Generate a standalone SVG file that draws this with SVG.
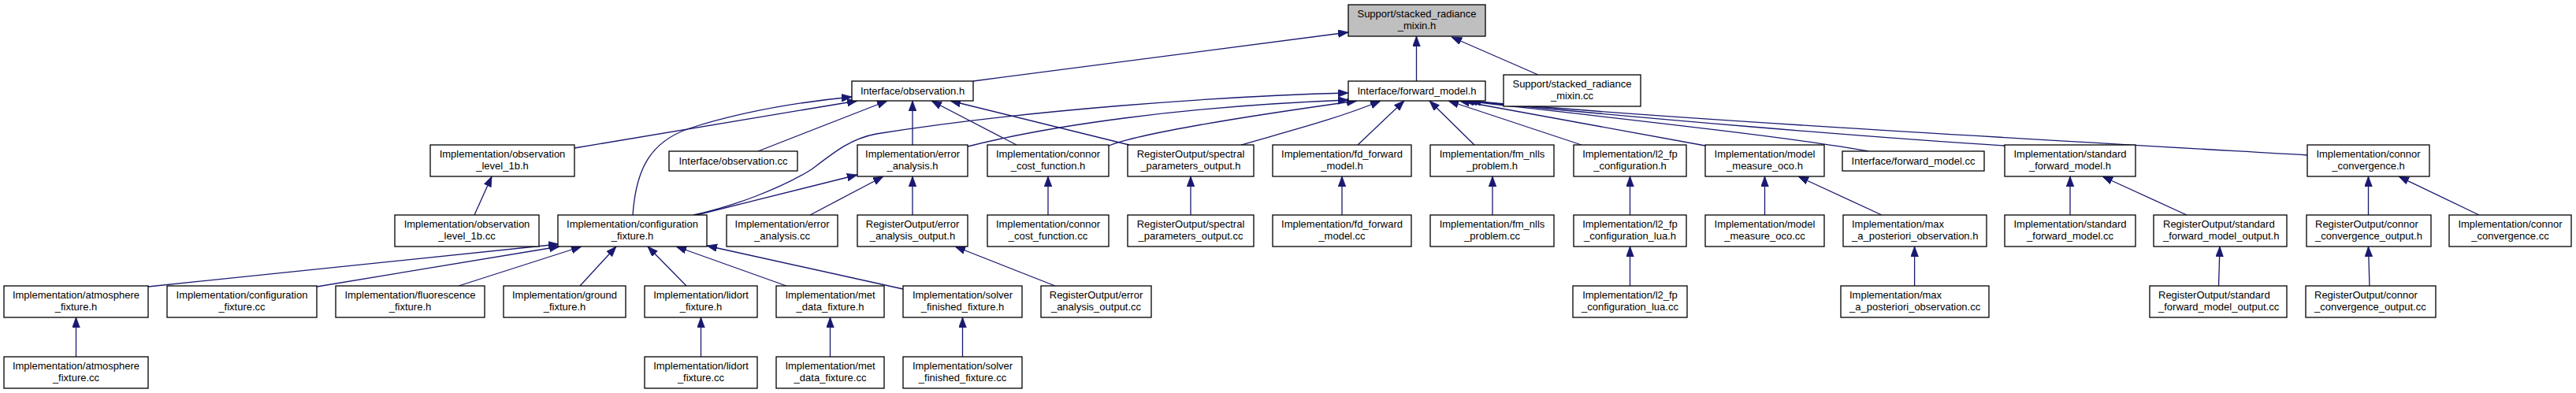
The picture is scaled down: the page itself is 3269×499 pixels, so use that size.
<svg xmlns="http://www.w3.org/2000/svg" width="3269" height="499" viewBox="0 0 3269 499">
<style>
.node rect{fill:#ffffff;stroke:#000000;stroke-width:1.3}
.node.root rect{fill:#bfbfbf}
.node text{font-family:"Liberation Sans",Arial,Helvetica,sans-serif;font-size:13px;fill:#000000;text-anchor:middle}
.node text.l{text-anchor:start}
#edges path{fill:none;stroke:#191970;stroke-width:1.3;marker-end:url(#arr)}
</style>
<defs>
<marker id="arr" markerUnits="userSpaceOnUse" markerWidth="14" markerHeight="11" refX="13" refY="4.8" orient="auto">
<path d="M0,0 L13,4.8 L0,9.6 z" fill="#191970" stroke="#191970" stroke-width="0.8"/>
</marker>
</defs>
<rect x="0" y="0" width="3269" height="499" fill="#ffffff"/>
<g id="edges">
<path d="M1235,103 L1711,41"/>
<path d="M1797.5,103 L1797.5,46"/>
<path d="M1952,95 L1842,47"/>
<path d="M729,188 L1088,128"/>
<path d="M803,273 C807,215 825,180 875,163 C940,142 1010,130 1081,123"/>
<path d="M962,192 L1126,128"/>
<path d="M1158,184 L1158,128"/>
<path d="M1290,184 L1182,128"/>
<path d="M1433,184 L1206,128"/>
<path d="M880,273 C930,262 990,240 1030,215 C1060,192 1080,176 1112,170 C1300,140 1550,122 1711,118"/>
<path d="M1228,186 C1330,160 1500,135 1711,127"/>
<path d="M1407,185 C1450,168 1600,145 1722,128"/>
<path d="M1575,184 C1630,168 1700,150 1752,128"/>
<path d="M1723,184 L1782,128"/>
<path d="M1871,184 L1814,128"/>
<path d="M2007,184 L1838,128"/>
<path d="M2164,185 L1852,128"/>
<path d="M2371,192 C2280,175 2050,150 1858,128"/>
<path d="M2544,185 C2380,175 2080,150 1862,128"/>
<path d="M2928,197 C2600,178 2100,150 1866,128"/>
<path d="M188,364 L709,310"/>
<path d="M402,364 L710,313"/>
<path d="M582,363 L738,313"/>
<path d="M736,363 L782,313"/>
<path d="M871,363 L822,313"/>
<path d="M998,363 L858,313"/>
<path d="M1146,367 L897,312"/>
<path d="M602,273 L624,224"/>
<path d="M884,273 L1088,222"/>
<path d="M1028,273 L1121,224"/>
<path d="M1158,273 L1158,224"/>
<path d="M1339,363 L1212,313"/>
<path d="M1330,273 L1330,224"/>
<path d="M1511,273 L1511,224"/>
<path d="M1703,273 L1703,224"/>
<path d="M1894,273 L1894,224"/>
<path d="M2068.5,273 L2068.5,224"/>
<path d="M2068.5,363 L2068.5,313"/>
<path d="M2239.5,273 L2239.5,224"/>
<path d="M2388,273 L2282,224"/>
<path d="M2429.6,363 L2429.6,313"/>
<path d="M2627,273 L2627,224"/>
<path d="M2775,273 L2668,224"/>
<path d="M2815.5,363 L2817,313"/>
<path d="M3005.5,273 L3005.5,224"/>
<path d="M3146,273 L3044,224"/>
<path d="M3007,363 L3005.5,313"/>
<path d="M96.5,453 L96.5,403"/>
<path d="M889.5,453 L889.5,403"/>
<path d="M1053.5,453 L1053.5,403"/>
<path d="M1221.5,453 L1221.5,403"/>
</g>
<g id="n_root" class="node root"><rect x="1711" y="6" width="174" height="40"/><text x="1798" y="22">Support/stacked_radiance</text><text x="1798" y="37">_mixin.h</text></g>
<g id="n_obs_h" class="node"><rect x="1081" y="103" width="154" height="25"/><text x="1158" y="119.5">Interface/observation.h</text></g>
<g id="n_fm_h" class="node"><rect x="1711" y="103" width="174" height="25"/><text x="1798" y="119.5">Interface/forward_model.h</text></g>
<g id="n_src_cc" class="node"><rect x="1908" y="95" width="174" height="40"/><text x="1995" y="111">Support/stacked_radiance</text><text x="1995" y="126">_mixin.cc</text></g>
<g id="n_obs1b_h" class="node"><rect x="546" y="184" width="183" height="40"/><text x="637.5" y="200">Implementation/observation</text><text x="637.5" y="215">_level_1b.h</text></g>
<g id="n_obs_cc" class="node"><rect x="849" y="192" width="163" height="25"/><text x="930.5" y="208.5">Interface/observation.cc</text></g>
<g id="n_ea_h" class="node"><rect x="1088" y="184" width="140" height="40"/><text x="1158" y="200">Implementation/error</text><text x="1158" y="215">_analysis.h</text></g>
<g id="n_ccf_h" class="node"><rect x="1253" y="184" width="154" height="40"/><text x="1330" y="200">Implementation/connor</text><text x="1330" y="215">_cost_function.h</text></g>
<g id="n_spo_h" class="node"><rect x="1431" y="184" width="160" height="40"/><text x="1511" y="200">RegisterOutput/spectral</text><text x="1511" y="215">_parameters_output.h</text></g>
<g id="n_fd_h" class="node"><rect x="1615" y="184" width="176" height="40"/><text x="1703" y="200">Implementation/fd_forward</text><text x="1703" y="215">_model.h</text></g>
<g id="n_nlls_h" class="node"><rect x="1815" y="184" width="157" height="40"/><text x="1893.5" y="200">Implementation/fm_nlls</text><text x="1893.5" y="215">_problem.h</text></g>
<g id="n_l2fp_h" class="node"><rect x="1997" y="184" width="143" height="40"/><text x="2068.5" y="200">Implementation/l2_fp</text><text x="2068.5" y="215">_configuration.h</text></g>
<g id="n_mmo_h" class="node"><rect x="2164" y="184" width="151" height="40"/><text x="2239.5" y="200">Implementation/model</text><text x="2239.5" y="215">_measure_oco.h</text></g>
<g id="n_fwd_cc" class="node"><rect x="2338" y="192" width="180" height="25"/><text x="2428" y="208.5">Interface/forward_model.cc</text></g>
<g id="n_sfm_h" class="node"><rect x="2544" y="184" width="166" height="40"/><text x="2627" y="200">Implementation/standard</text><text x="2627" y="215">_forward_model.h</text></g>
<g id="n_cc_h" class="node"><rect x="2928" y="184" width="155" height="40"/><text x="3005.5" y="200">Implementation/connor</text><text x="3005.5" y="215">_convergence.h</text></g>
<g id="n_obs1b_cc" class="node"><rect x="501" y="273" width="183" height="40"/><text x="592.5" y="289">Implementation/observation</text><text x="592.5" y="304">_level_1b.cc</text></g>
<g id="n_cfg_h" class="node"><rect x="708" y="273" width="189" height="40"/><text x="802.5" y="289">Implementation/configuration</text><text x="802.5" y="304">_fixture.h</text></g>
<g id="n_ea_cc" class="node"><rect x="922" y="273" width="141" height="40"/><text x="992.5" y="289">Implementation/error</text><text x="992.5" y="304">_analysis.cc</text></g>
<g id="n_eao_h" class="node"><rect x="1088" y="273" width="140" height="40"/><text x="1158" y="289">RegisterOutput/error</text><text x="1158" y="304">_analysis_output.h</text></g>
<g id="n_ccf_cc" class="node"><rect x="1253" y="273" width="154" height="40"/><text x="1330" y="289">Implementation/connor</text><text x="1330" y="304">_cost_function.cc</text></g>
<g id="n_spo_cc" class="node"><rect x="1431" y="273" width="160" height="40"/><text x="1511" y="289">RegisterOutput/spectral</text><text x="1511" y="304">_parameters_output.cc</text></g>
<g id="n_fd_cc" class="node"><rect x="1615" y="273" width="176" height="40"/><text x="1703" y="289">Implementation/fd_forward</text><text x="1703" y="304">_model.cc</text></g>
<g id="n_nlls_cc" class="node"><rect x="1815" y="273" width="157" height="40"/><text x="1893.5" y="289">Implementation/fm_nlls</text><text x="1893.5" y="304">_problem.cc</text></g>
<g id="n_l2fpl_h" class="node"><rect x="1997" y="273" width="143" height="40"/><text x="2068.5" y="289">Implementation/l2_fp</text><text x="2068.5" y="304">_configuration_lua.h</text></g>
<g id="n_mmo_cc" class="node"><rect x="2164" y="273" width="151" height="40"/><text x="2239.5" y="289">Implementation/model</text><text x="2239.5" y="304">_measure_oco.cc</text></g>
<g id="n_map_h" class="node"><rect x="2339" y="273" width="182" height="40"/><text class="l" x="2350" y="289">Implementation/max</text><text class="l" x="2350" y="304">_a_posteriori_observation.h</text></g>
<g id="n_sfm_cc" class="node"><rect x="2544" y="273" width="166" height="40"/><text x="2627" y="289">Implementation/standard</text><text x="2627" y="304">_forward_model.cc</text></g>
<g id="n_sfmo_h" class="node"><rect x="2733" y="273" width="169" height="40"/><text class="l" x="2745" y="289">RegisterOutput/standard</text><text class="l" x="2745" y="304">_forward_model_output.h</text></g>
<g id="n_cco_h" class="node"><rect x="2927" y="273" width="158" height="40"/><text class="l" x="2938" y="289">RegisterOutput/connor</text><text class="l" x="2938" y="304">_convergence_output.h</text></g>
<g id="n_cc_cc" class="node"><rect x="3108" y="273" width="155" height="40"/><text x="3185.5" y="289">Implementation/connor</text><text x="3185.5" y="304">_convergence.cc</text></g>
<g id="n_atm_h" class="node"><rect x="5" y="363" width="183" height="40"/><text x="96.5" y="379">Implementation/atmosphere</text><text x="96.5" y="394">_fixture.h</text></g>
<g id="n_cfg_cc" class="node"><rect x="212" y="363" width="190" height="40"/><text x="307" y="379">Implementation/configuration</text><text x="307" y="394">_fixture.cc</text></g>
<g id="n_fluor_h" class="node"><rect x="426" y="363" width="189" height="40"/><text x="520.5" y="379">Implementation/fluorescence</text><text x="520.5" y="394">_fixture.h</text></g>
<g id="n_ground_h" class="node"><rect x="639" y="363" width="155" height="40"/><text x="716.5" y="379">Implementation/ground</text><text x="716.5" y="394">_fixture.h</text></g>
<g id="n_lidort_h" class="node"><rect x="818" y="363" width="143" height="40"/><text x="889.5" y="379">Implementation/lidort</text><text x="889.5" y="394">_fixture.h</text></g>
<g id="n_met_h" class="node"><rect x="985" y="363" width="137" height="40"/><text x="1053.5" y="379">Implementation/met</text><text x="1053.5" y="394">_data_fixture.h</text></g>
<g id="n_solver_h" class="node"><rect x="1146" y="363" width="151" height="40"/><text x="1221.5" y="379">Implementation/solver</text><text x="1221.5" y="394">_finished_fixture.h</text></g>
<g id="n_eao_cc" class="node"><rect x="1321" y="363" width="140" height="40"/><text x="1391" y="379">RegisterOutput/error</text><text x="1391" y="394">_analysis_output.cc</text></g>
<g id="n_l2fpl_cc" class="node"><rect x="1996" y="363" width="145" height="40"/><text x="2068.5" y="379">Implementation/l2_fp</text><text x="2068.5" y="394">_configuration_lua.cc</text></g>
<g id="n_map_cc" class="node"><rect x="2336" y="363" width="188" height="40"/><text class="l" x="2347" y="379">Implementation/max</text><text class="l" x="2347" y="394">_a_posteriori_observation.cc</text></g>
<g id="n_sfmo_cc" class="node"><rect x="2728" y="363" width="174" height="40"/><text class="l" x="2739" y="379">RegisterOutput/standard</text><text class="l" x="2739" y="394">_forward_model_output.cc</text></g>
<g id="n_cco_cc" class="node"><rect x="2926" y="363" width="165" height="40"/><text class="l" x="2937" y="379">RegisterOutput/connor</text><text class="l" x="2937" y="394">_convergence_output.cc</text></g>
<g id="n_atm_cc" class="node"><rect x="5" y="453" width="183" height="40"/><text x="96.5" y="469">Implementation/atmosphere</text><text x="96.5" y="484">_fixture.cc</text></g>
<g id="n_lidort_cc" class="node"><rect x="818" y="453" width="143" height="40"/><text x="889.5" y="469">Implementation/lidort</text><text x="889.5" y="484">_fixture.cc</text></g>
<g id="n_met_cc" class="node"><rect x="985" y="453" width="137" height="40"/><text x="1053.5" y="469">Implementation/met</text><text x="1053.5" y="484">_data_fixture.cc</text></g>
<g id="n_solver_cc" class="node"><rect x="1146" y="453" width="151" height="40"/><text x="1221.5" y="469">Implementation/solver</text><text x="1221.5" y="484">_finished_fixture.cc</text></g>
</svg>
